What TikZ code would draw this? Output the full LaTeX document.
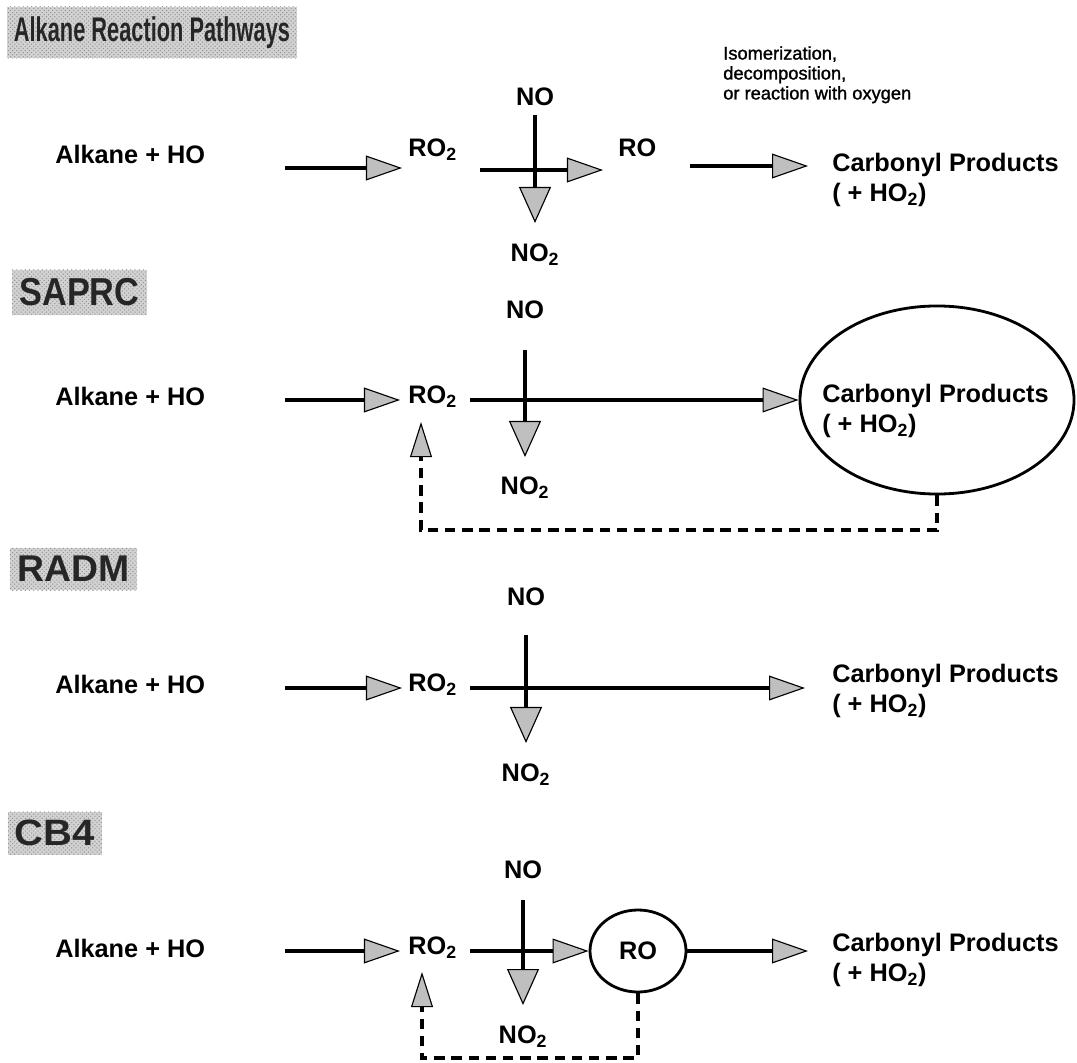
\documentclass[tikz,border=0pt]{standalone}
\usepackage{fontspec}
\usepackage{graphicx}
\setmainfont{Liberation Sans}
\newfontfamily\notefont{Liberation Sans}[BoldFont={Liberation Sans}, BoldFeatures={FakeBold=1.3}]
\usetikzlibrary{arrows.meta,shapes.geometric,patterns}

% header text squeezed to a fixed box
\newcommand{\hdtext}[3]{\resizebox{#1}{#2}{\bfseries #3}}

\tikzset{
  lbl/.style={font=\bfseries\fontsize{18}{21}\selectfont, inner sep=0pt},
  note/.style={font=\notefont\bfseries\fontsize{13}{14.2}\selectfont, inner sep=0pt, align=left},
  hdr/.style={fill=gray!35, text=black!85, inner sep=0pt,
    postaction={pattern=crosshatch dots, pattern color=gray!85}},
  flow/.style={line width=2.2pt, -{Triangle[length=0.9cm,width=0.62cm,fill=gray!50,line width=0.8pt]}},
  flowv/.style={line width=2.2pt, -{Triangle[length=0.9cm,width=0.8cm,fill=gray!50,line width=0.8pt]}},
  back/.style={line width=2.5pt, dash pattern=on 0.26cm off 0.17cm, -{Triangle[length=0.88cm,width=0.55cm,fill=gray!50,line width=0.8pt]}},
  ring/.style={draw, ellipse, line width=2pt, inner sep=0pt}
}

\begin{document}
\begin{tikzpicture}[x=0.025cm,y=-0.025cm]
\useasboundingbox (0,0) rectangle (1077,1063);

% ---------- section headers ----------
\node[hdr, minimum width=7.25cm, minimum height=1.275cm] (hd1) at (152,32.5) {\hdtext{6.9cm}{0.62cm}{Alkane Reaction Pathways}};
\node[hdr, minimum width=3.375cm, minimum height=1.125cm] (hd2) at (79.5,292.5) {\hdtext{3.0cm}{0.68cm}{SAPRC}};
\node[hdr, minimum width=3.175cm, minimum height=1.05cm] (hd3) at (73.5,569) {\hdtext{2.8cm}{0.64cm}{RADM}};
\node[hdr, minimum width=2.35cm, minimum height=1.075cm] (hd4) at (55,833) {\hdtext{2.0cm}{0.64cm}{CB4}};

% ---------- general pathway ----------
\node[lbl, anchor=west] (alk1) at (55,154) {Alkane + HO};
\coordinate (a1s) at (285,168); \coordinate (a1e) at (402,168);
\draw[flow] (a1s) -- (a1e);
\node[lbl, anchor=west] (rotwo1) at (408,150) {RO\textsubscript{2}};
\node[lbl] (no1) at (535,97) {NO};
\node[lbl] (notwo1) at (535,255) {NO\textsubscript{2}};
\coordinate (h1s) at (480,170); \coordinate (h1e) at (603,170);
\coordinate (v1s) at (535,115); \coordinate (v1e) at (535,223);
\draw[flow] (h1s) -- (h1e);
\draw[flowv] (v1s) -- (v1e);
\node[lbl, anchor=west] (ro1) at (618,148) {RO};
\coordinate (c1s) at (690,166); \coordinate (c1e) at (808,166);
\draw[flow] (c1s) -- (c1e);
\node[lbl, anchor=west] (prod1) at (832,165) {Carbonyl Products};
\node[lbl, anchor=west] (hotwo1) at (832,195) {( + HO\textsubscript{2})};
\node[note, anchor=north west] (iso) at (723,46) {Isomerization,\\decomposition,\\or reaction with oxygen};

% ---------- SAPRC ----------
\node[lbl, anchor=west] (alk2) at (55,396) {Alkane + HO};
\coordinate (a2s) at (285,400); \coordinate (a2e) at (400,400);
\draw[flow] (a2s) -- (a2e);
\node[lbl, anchor=west] (rotwo2) at (408,397) {RO\textsubscript{2}};
\node[lbl] (no2) at (525,310) {NO};
\node[lbl] (notwo2) at (525,488) {NO\textsubscript{2}};
\node[ring, minimum width=6.85cm, minimum height=4.7cm] (ell2) at (937,400) {};
\coordinate (h2s) at (470,400);
\coordinate (v2s) at (525,350); \coordinate (v2e) at (525,457);
\draw[flow] (h2s) -- (ell2.west);
\draw[flowv] (v2s) -- (v2e);
\node[lbl, anchor=west] (prod2) at (822,396) {Carbonyl Products};
\node[lbl, anchor=west] (hotwo2) at (822,426) {( + HO\textsubscript{2})};
\coordinate (d2c) at (421,530); \coordinate (up2) at (421,422);
\draw[back] (ell2.south) |- (d2c) -- (up2);

% ---------- RADM ----------
\node[lbl, anchor=west] (alk3) at (55,684) {Alkane + HO};
\coordinate (a3s) at (285,688); \coordinate (a3e) at (402,688);
\draw[flow] (a3s) -- (a3e);
\node[lbl, anchor=west] (rotwo3) at (408,685) {RO\textsubscript{2}};
\node[lbl] (no3) at (526,597) {NO};
\node[lbl] (notwo3) at (526,775) {NO\textsubscript{2}};
\coordinate (h3s) at (470,688); \coordinate (h3e) at (805,688);
\coordinate (v3s) at (526,635); \coordinate (v3e) at (526,743);
\draw[flow] (h3s) -- (h3e);
\draw[flowv] (v3s) -- (v3e);
\node[lbl, anchor=west] (prod3) at (832,676) {Carbonyl Products};
\node[lbl, anchor=west] (hotwo3) at (832,706) {( + HO\textsubscript{2})};

% ---------- CB4 ----------
\node[lbl, anchor=west] (alk4) at (55,948) {Alkane + HO};
\coordinate (a4s) at (285,951); \coordinate (a4e) at (400,951);
\draw[flow] (a4s) -- (a4e);
\node[lbl, anchor=west] (rotwo4) at (408,948) {RO\textsubscript{2}};
\node[lbl] (no4) at (523,870) {NO};
\node[lbl] (notwo4) at (523,1037) {NO\textsubscript{2}};
\node[ring, minimum width=2.4cm, minimum height=2.05cm, font=\bfseries\fontsize{18}{21}\selectfont] (ro4) at (638,951) {RO};
\coordinate (h4s) at (470,951);
\coordinate (v4s) at (523,900); \coordinate (v4e) at (523,1005);
\draw[flow] (h4s) -- (ro4.west);
\draw[flowv] (v4s) -- (v4e);
\coordinate (c4e) at (808,951);
\draw[flow] (ro4.east) -- (c4e);
\node[lbl, anchor=west] (prod4) at (832,945) {Carbonyl Products};
\node[lbl, anchor=west] (hotwo4) at (832,975) {( + HO\textsubscript{2})};
\coordinate (d4c) at (422,1058); \coordinate (up4) at (422,972);
\draw[back] (ro4.south) |- (d4c) -- (up4);
\end{tikzpicture}
\end{document}
